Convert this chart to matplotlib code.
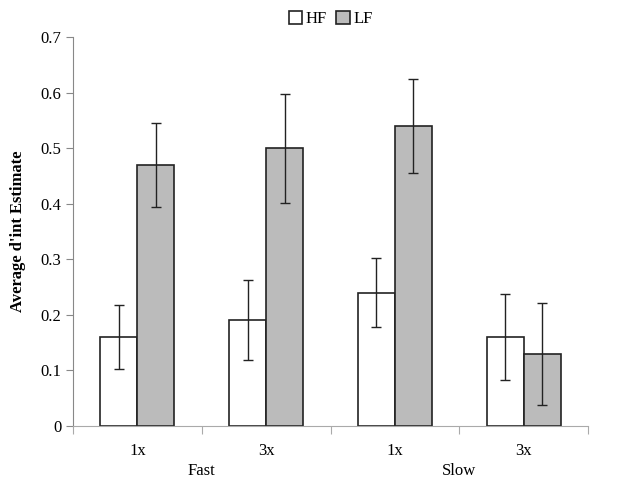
import numpy as np
import matplotlib
matplotlib.use("Agg")
import matplotlib.pyplot as plt

plt.rcParams["font.family"] = ["Liberation Serif", "DejaVu Serif"]

# data
groups = ["1x", "3x", "1x", "3x"]
speeds = ["Fast", "Slow"]
hf = [0.16, 0.19, 0.24, 0.16]
lf = [0.47, 0.50, 0.54, 0.13]
hf_err = [0.057, 0.072, 0.062, 0.078]
lf_err = [0.076, 0.098, 0.084, 0.092]

fig = plt.figure(figsize=(6.35, 4.79), dpi=100)
ax = fig.add_axes([0.115, 0.1106, 0.811, 0.8122])

x = np.arange(len(groups))
w = 0.288
err_kw = dict(ecolor="#222222", elinewidth=1, capsize=3.5, capthick=1)
ax.bar(x - w / 2, hf, w, yerr=hf_err, color="white", edgecolor="#222222",
       linewidth=1.2, label="HF", error_kw=err_kw)
ax.bar(x + w / 2, lf, w, yerr=lf_err, color="#bbbbbb", edgecolor="#222222",
       linewidth=1.2, label="LF", error_kw=err_kw)

ax.set_xlim(-0.5, len(groups) - 0.5)
ax.set_ylim(0, 0.7)
ax.set_yticks(np.arange(0, 0.71, 0.1))
ax.set_yticklabels(["0"] + ["%.1f" % v for v in np.arange(0.1, 0.71, 0.1)])

# category boundaries get the ticks, labels sit between them
ax.set_xticks(np.arange(-0.5, len(groups), 1.0))
ax.set_xticklabels([])
ax.set_xticks(x, minor=True)
ax.set_xticklabels(groups, minor=True)
ax.tick_params(axis="x", which="minor", length=0, pad=12, labelsize=12)
ax.tick_params(axis="x", which="major", length=6, color="#aaaaaa", direction="out")
ax.tick_params(axis="y", length=5, color="#888888", labelsize=12, direction="out")

for i, s in enumerate(speeds):
    ax.text(0.5 + 2 * i, -0.066, s, ha="center", va="top", fontsize=12)

for side in ["top", "right"]:
    ax.spines[side].set_visible(False)
ax.spines["left"].set_color("#888888")
ax.spines["bottom"].set_color("#aaaaaa")

ax.set_ylabel("Average d'int Estimate", fontsize=12, fontweight="bold", labelpad=10)

ax.legend(loc="lower center", bbox_to_anchor=(0.5, 1.0), ncol=2, frameon=False,
          fontsize=12, handlelength=0.8, handleheight=0.8, handletextpad=0.2,
          columnspacing=0.6, borderaxespad=0.2)

fig.savefig("out.png", dpi=100)
